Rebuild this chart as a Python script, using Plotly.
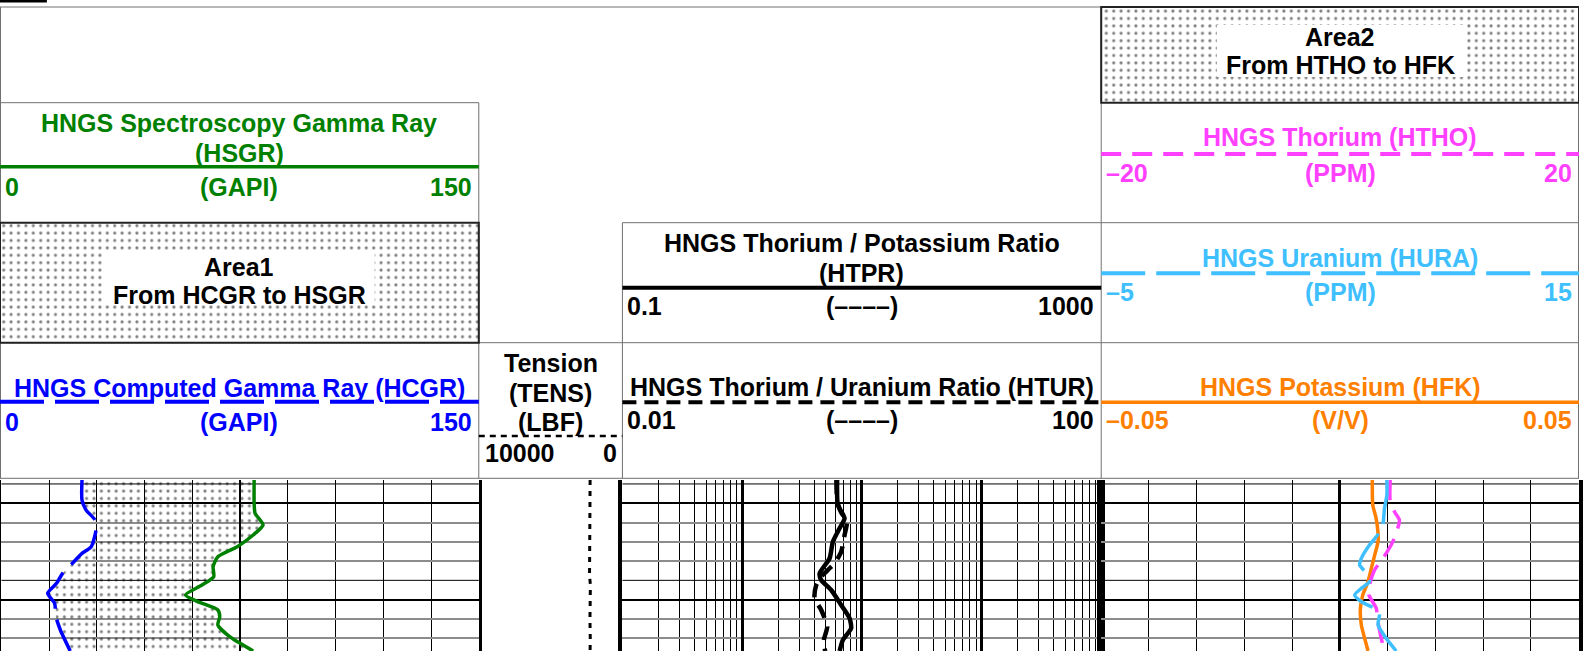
import plotly.graph_objects as go

hcgr_depth = [3397.59, 3399.67, 3400.71, 3401.74, 3402.78, 3404.51, 3405.20, 3406.23,
              3407.27, 3408.31, 3409.35, 3410.38, 3411.77, 3413.15, 3415.33]
hcgr = [25.3, 25.3, 26.6, 29.4, 29.7, 28.2, 25.3, 22.3, 19.2, 17.3, 14.5, 16.7, 17.1, 18.5, 21.6]

hsgr_depth = [3397.59, 3400.01, 3401.05, 3402.26, 3403.30, 3404.51, 3405.55, 3406.59, 3407.62,
              3408.49, 3409.52, 3410.22, 3411.08, 3411.77, 3412.63, 3413.85, 3415.33]
hsgr = [79.4, 79.4, 79.7, 82.2, 79.1, 74.1, 68.0, 66.5, 66.7, 63.0, 57.8, 61.8, 68.0, 68.6,
        68.0, 71.7, 79.1]

tens_depth = [3397.59, 3400.0, 3402.0, 3404.0, 3406.0, 3407.5, 3408.5, 3410.0, 3412.0, 3414.0, 3415.33]
tens = [2250, 2250, 2245, 2250, 2240, 2290, 2230, 2250, 2260, 2240, 2250]

htpr_depth = [3397.59, 3400.19, 3401.57, 3402.60, 3403.99, 3405.72, 3407.27, 3407.97, 3409.00,
              3410.56, 3411.94, 3412.98, 3414.19, 3415.33]
htpr = [6.22, 6.31, 7.18, 6.52, 5.73, 5.38, 4.44, 4.58, 5.55, 6.72, 7.90, 8.14, 6.95, 6.52]

htur_depth = [3397.59, 3399.84, 3400.88, 3401.92, 3403.30, 3405.03, 3406.20, 3406.72, 3407.76,
              3408.49, 3409.83, 3411.08, 3412.81, 3414.19, 3415.33]
htur = [0.613, 0.625, 0.668, 0.750, 0.718, 0.672, 0.596, 0.541, 0.447, 0.416, 0.403, 0.458,
        0.514, 0.482, 0.494]

htho_depth = [3397.59, 3399.84, 3400.88, 3401.74, 3403.12, 3404.34, 3405.72, 3406.93, 3408.49,
              3409.52, 3410.90, 3412.29, 3414.01, 3415.33]
htho = [4.22, 4.22, 4.58, 4.99, 4.72, 4.30, 3.61, 2.91, 2.49, 2.44, 3.05, 3.19, 3.47, 3.74]

hura_depth = [3397.59, 3399.15, 3400.53, 3402.26, 3403.23, 3404.34, 3405.72, 3406.41, 3407.45,
              3408.14, 3408.83, 3409.52, 3410.22, 3411.26, 3412.63, 3414.01, 3415.33]
hura = [6.97, 6.97, 6.87, 6.80, 6.60, 6.24, 5.90, 5.83, 6.18, 6.24, 5.90, 5.62, 5.90, 6.66,
        6.60, 6.94, 7.36]

hfk_depth = [3397.59, 3400.19, 3401.57, 3403.12, 3403.99, 3405.37, 3406.75, 3408.14, 3409.52,
             3410.90, 3412.63, 3414.01, 3415.33]
hfk = [0.0068, 0.0069, 0.0076, 0.0080, 0.0080, 0.0073, 0.0066, 0.0059, 0.0048, 0.0043,
       0.0045, 0.0052, 0.0059]

depth_range = [3415.33, 3397.59]
major_depths = [3400, 3410]
minor_depths = [3402, 3404, 3406, 3412, 3414]
dark_depths = [3398, 3408]

# scales / tick labels
hsgr_scale = ["0", "(GAPI)", "150"]
hcgr_scale = ["0", "(GAPI)", "150"]
tens_scale = ["10000", "0"]
htpr_scale = ["0.1", "(––––)", "1000"]
htur_scale = ["0.01", "(––––)", "100"]
htho_scale = ["–20", "(PPM)", "20"]
hura_scale = ["–5", "(PPM)", "15"]
hfk_scale = ["–0.05", "(V/V)", "0.05"]

# ---------------- styling / layout geometry ----------------
W, H = 1583, 651
FONT = "Liberation Sans, Arial, sans-serif"
FS = 25
GREEN, BLUE, MAGENTA, SKY, ORANGE = "#008000", "#0000FF", "#FF40FF", "#40BFFF", "#FF8000"
GRAY = "#707070"
T1 = (1.5, 480.0)
TT = (480.0, 624.0)
T3 = (624.0, 1104.0)
T4 = (1104.0, 1582.5)
DATA_TOP = 480.0
TOP, ROW1, ROW2, ROW3, HBOT = 7.0, 102.7, 222.7, 342.7, 478.3
PAT_SIZE, PAT_SOLID = 7.4, 0.14

def dom(t):
    return [t[0] / W, t[1] / W]

ydom = [0, (H - DATA_TOP) / H]

fig = go.Figure()

# header patterned boxes (Area1 / Area2) on a pixel overlay axis
pat = dict(shape=".", fgcolor="black", bgcolor="white", size=PAT_SIZE, solidity=PAT_SOLID)
for (x0, x1, y0, y1) in [(0, 480, ROW2, ROW3), (1104, 1583, TOP, ROW1)]:
    fig.add_trace(go.Scatter(x=[x0, x1, x1, x0, x0], y=[y0, y0, y1, y1, y0], xaxis="x8", yaxis="y8",
                             mode="lines", line=dict(width=0), fill="toself", fillcolor="white",
                             fillpattern=pat, hoverinfo="skip"))

# track 1
fig.add_trace(go.Scatter(x=hcgr, y=hcgr_depth, xaxis="x", yaxis="y", mode="lines",
                         line=dict(color=BLUE, width=3.5, dash="44px,11px", shape="spline", smoothing=0.6)))
fig.add_trace(go.Scatter(x=hsgr, y=hsgr_depth, xaxis="x", yaxis="y", mode="lines",
                         line=dict(color=GREEN, width=3.5, shape="spline", smoothing=0.6),
                         fill="tonextx", fillcolor="rgba(0,0,0,0)",
                         fillpattern=dict(shape=".", fgcolor="black", bgcolor="rgba(0,0,0,0)",
                                          size=PAT_SIZE, solidity=PAT_SOLID, fillmode="overlay")))
# tension
fig.add_trace(go.Scatter(x=tens, y=tens_depth, xaxis="x2", yaxis="y2", mode="lines",
                         line=dict(color="black", width=3, dash="5px,6px")))
# track 3
fig.add_trace(go.Scatter(x=htpr, y=htpr_depth, xaxis="x3", yaxis="y3", mode="lines",
                         line=dict(color="black", width=4.5, shape="spline", smoothing=0.6)))
fig.add_trace(go.Scatter(x=htur, y=htur_depth, xaxis="x4", yaxis="y3", mode="lines",
                         line=dict(color="black", width=4.5, dash="14px,9px", shape="spline", smoothing=0.6)))
# track 4
fig.add_trace(go.Scatter(x=hfk, y=hfk_depth, xaxis="x5", yaxis="y4", mode="lines",
                         line=dict(color=ORANGE, width=3.5, shape="spline", smoothing=0.6)))
fig.add_trace(go.Scatter(x=htho, y=htho_depth, xaxis="x6", yaxis="y4", mode="lines",
                         line=dict(color=MAGENTA, width=3.5, dash="20px,11px", shape="spline", smoothing=0.6)))
fig.add_trace(go.Scatter(x=hura, y=hura_depth, xaxis="x7", yaxis="y4", mode="lines",
                         line=dict(color=SKY, width=3.5, dash="44px,11px", shape="spline", smoothing=0.6)))

hidden = dict(showticklabels=False, ticks="", zeroline=False, showline=False)

def yax(anchor, grid=True, lw=3):
    d = dict(domain=ydom, range=depth_range, anchor=anchor, showticklabels=False, ticks="", zeroline=False)
    if grid:
        d.update(showgrid=True, tickmode="array", tickvals=major_depths, gridcolor="black", gridwidth=2,
                 minor=dict(tickvals=minor_depths, showgrid=True, gridcolor="#8c8c8c", gridwidth=2, ticks=""))
    else:
        d.update(showgrid=False)
    d.update(showline=True, mirror=True, linecolor="black", linewidth=lw)
    return d

log_minor = [m * 10.0 ** e for e in (-1, 0, 1, 2) for m in range(2, 10)]

layout = dict(
    width=W, height=H, margin=dict(l=0, r=0, t=0, b=0), showlegend=False,
    paper_bgcolor="white", plot_bgcolor="rgba(0,0,0,0)",
    xaxis=dict(domain=dom(T1), range=[0, 150], anchor="y", showgrid=True, tickmode="array", tickvals=[75],
               gridcolor="black", gridwidth=2,
               minor=dict(tickvals=[15, 30, 45, 60, 90, 105, 120, 135], showgrid=True, gridcolor="black",
                          gridwidth=1, ticks=""), **hidden),
    yaxis=yax("x", lw=3),
    xaxis2=dict(domain=dom(TT), range=[10000, 0], anchor="y2", showgrid=False, **hidden),
    yaxis2=dict(domain=ydom, range=depth_range, anchor="x2", showgrid=False, **hidden),
    xaxis3=dict(domain=dom(T3), type="log", range=[-1, 3], anchor="y3", showgrid=True, tickmode="array",
                tickvals=[1, 10, 100], gridcolor="black", gridwidth=3,
                minor=dict(tickvals=log_minor, showgrid=True, gridcolor="black", gridwidth=1, ticks=""), **hidden),
    xaxis4=dict(type="log", range=[-2, 2], overlaying="x3", anchor="y3", showgrid=False, visible=False),
    yaxis3=yax("x3", lw=4),
    xaxis5=dict(domain=dom(T4), range=[-0.05, 0.05], anchor="y4", showgrid=True, tickmode="array",
                tickvals=[0], gridcolor="black", gridwidth=3,
                minor=dict(tickvals=[-0.04, -0.03, -0.02, -0.01, 0.01, 0.02, 0.03, 0.04], showgrid=True,
                           gridcolor="black", gridwidth=1, ticks=""), **hidden),
    xaxis6=dict(range=[-20, 20], overlaying="x5", anchor="y4", showgrid=False, visible=False),
    xaxis7=dict(range=[-5, 15], overlaying="x5", anchor="y4", showgrid=False, visible=False),
    yaxis4=yax("x5", lw=4),
    xaxis8=dict(domain=[0, 1], range=[0, W], anchor="y8", showgrid=False, visible=False),
    yaxis8=dict(domain=[0, 1], range=[H, 0], anchor="x8", showgrid=False, visible=False),
)
fig.update_layout(**layout)

shapes = []
def line(x0, y0, x1, y1, color=GRAY, width=1, dash="solid"):
    shapes.append(dict(type="line", xref="x8", yref="y8", x0=x0, y0=y0, x1=x1, y1=y1,
                       line=dict(color=color, width=width, dash=dash), layer="above"))

# darker depth lines inside tracks
for xr, yr in [("x domain", "y"), ("x3 domain", "y3"), ("x5 domain", "y4")]:
    for d in dark_depths:
        shapes.append(dict(type="line", xref=xr, yref=yr, x0=0, x1=1, y0=d, y1=d,
                           line=dict(color="black", width=1), layer="below"))

# header frame
line(0, TOP, 1104, TOP)
line(0.5, TOP, 0.5, HBOT)
line(0, ROW1, 480, ROW1)
line(480, ROW1, 480, HBOT)
line(624, ROW2, 1583, ROW2)
line(0, ROW3, 1583, ROW3)
line(624, ROW2, 624, HBOT)
line(1104, TOP, 1104, HBOT)
line(1582.5, TOP, 1582.5, HBOT)
line(0, HBOT, 1583, HBOT)
# area boxes
for (x0, x1, y0, y1) in [(0, 480, ROW2, ROW3), (1104, 1583, TOP, ROW1)]:
    shapes.append(dict(type="rect", xref="x8", yref="y8", x0=x0, x1=x1, y0=y0, y1=y1,
                       line=dict(color="#222222", width=2), layer="above"))
# white label boxes on patterns
for (x0, x1, y0, y1) in [(103.6, 375.6, 252.0, 303.5), (1220, 1470, 25, 77)]:
    shapes.append(dict(type="rect", xref="x8", yref="y8", x0=x0, x1=x1, y0=y0, y1=y1,
                       fillcolor="white", line=dict(width=0), layer="above"))
# small black mark top-left
shapes.append(dict(type="rect", xref="x8", yref="y8", x0=0, x1=47, y0=0, y1=2.5,
                   fillcolor="black", line=dict(width=0), layer="above"))

# curve-style header lines
line(0, 166.7, 480, 166.7, GREEN, 3.5)
line(0, 401.7, 480, 401.7, BLUE, 4, "44px,11px")
line(480, 436, 624, 436, "black", 2.5, "6px,5px")
line(624, 287.7, 1104, 287.7, "black", 4)
line(624, 402.3, 1104, 402.3, "black", 4, "14px,8px")
line(1104, 154, 1583, 154, MAGENTA, 4, "20px,11px")
line(1104, 273.3, 1583, 273.3, SKY, 4, "44px,11px")
line(1104, 402.3, 1583, 402.3, ORANGE, 3.5)

fig.update_layout(shapes=shapes)

ann = []
def txt(s, x, y, color="black", xanchor="center"):
    ann.append(dict(text=s, x=x, y=y, xref="x8", yref="y8", xanchor=xanchor, yanchor="middle",
                    showarrow=False, font=dict(family=FONT, size=FS, color=color, weight="bold")))

def scale(labels, t, y, color="black"):
    txt(labels[0], t[0] + 3, y, color, "left")
    txt(labels[1], (t[0] + t[1]) / 2, y, color)
    txt(labels[2], t[1] - 5, y, color, "right")

c1 = 240
txt("HNGS Spectroscopy Gamma Ray", c1, 123, GREEN)
txt("(HSGR)", c1, 153, GREEN)
scale(hsgr_scale, (0, 480), 186.7, GREEN)
txt("Area1", c1, 266.7)
txt("From HCGR to HSGR", c1, 295)
txt("HNGS Computed Gamma Ray (HCGR)", c1, 388.3, BLUE)
scale(hcgr_scale, (0, 480), 421.7, BLUE)

ct = 552
txt("Tension", ct, 363.3)
txt("(TENS)", ct, 392.7)
txt("(LBF)", ct, 421.7)
txt(tens_scale[0], 484, 453.3, "black", "left")
txt(tens_scale[1], 621, 453.3, "black", "right")

c3 = 864
txt("HNGS Thorium / Potassium Ratio", c3, 243.3)
txt("(HTPR)", c3, 273.3)
scale(htpr_scale, (624, 1104), 306)
txt("HNGS Thorium / Uranium Ratio (HTUR)", c3, 386.7)
scale(htur_scale, (624, 1104), 420)

c4 = 1343.5
txt("Area2", c4, 36.7)
txt("From HTHO to HFK", c4, 65)
txt("HNGS Thorium (HTHO)", c4, 136.7, MAGENTA)
scale(htho_scale, (1104, 1583), 173.3, MAGENTA)
txt("HNGS Uranium (HURA)", c4, 258.3, SKY)
scale(hura_scale, (1104, 1583), 291.7, SKY)
txt("HNGS Potassium (HFK)", c4, 386.7, ORANGE)
scale(hfk_scale, (1104, 1583), 420, ORANGE)

fig.update_layout(annotations=ann)

fig.write_html("out.html", config={"displayModeBar": False},
               post_script="document.body.style.margin='0px';")
